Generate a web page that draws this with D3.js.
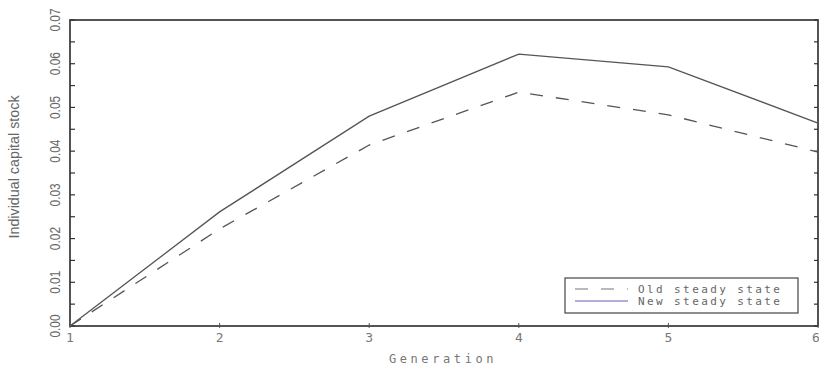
<!DOCTYPE html>
<html><head><meta charset="utf-8">
<script src="https://cdn.jsdelivr.net/npm/d3@7/dist/d3.min.js"></script>
<style>
html,body{margin:0;padding:0;background:#fff;}
svg{display:block;}
</style></head>
<body>
<svg id="chart" width="819" height="367"></svg>
<script>
const generations = [1, 2, 3, 4, 5, 6];
const oldSteady = [0.0, 0.0222, 0.0414, 0.0535, 0.0483, 0.0398];
const newSteady = [0.0, 0.0261, 0.0480, 0.0622, 0.0593, 0.0464];
const xTicks = [1, 2, 3, 4, 5, 6];
const yTicks = [0.00, 0.01, 0.02, 0.03, 0.04, 0.05, 0.06, 0.07];
const yMinorTicks = [0.005, 0.015, 0.025, 0.035, 0.045, 0.055, 0.065];
const seriesNames = ["Old steady state", "New steady state"];

const svg = d3.select("#chart");
const L = 70, R = 818, T = 20, B = 326;
const x = d3.scaleLinear().domain([1, 6]).range([L, R]);
const y = d3.scaleLinear().domain([0, 0.07]).range([B, T]);

const monoFont = "'DejaVu Sans Mono', monospace";
const narrowFont = "'Liberation Sans Narrow', 'Arial Narrow', 'Liberation Sans', sans-serif";

// frame
svg.append("rect").attr("x", L).attr("y", T).attr("width", R - L).attr("height", B - T)
  .attr("fill", "none").attr("stroke", "#2a2a2a").attr("stroke-width", 1.6);

// y ticks left & right
const allY = yTicks.concat(yMinorTicks);
svg.append("g").selectAll("line").data(allY).join("line")
  .attr("x1", L).attr("x2", L + 5).attr("y1", d => y(d)).attr("y2", d => y(d))
  .attr("stroke", "#333").attr("stroke-width", 1.2);
svg.append("g").selectAll("line").data(allY).join("line")
  .attr("x1", R - 4).attr("x2", R).attr("y1", d => y(d)).attr("y2", d => y(d))
  .attr("stroke", "#333").attr("stroke-width", 1.2);

// x ticks
svg.append("g").selectAll("line").data(xTicks).join("line")
  .attr("x1", d => x(d)).attr("x2", d => x(d)).attr("y1", B - 3).attr("y2", B + 2)
  .attr("stroke", "#555").attr("stroke-width", 1);

// y labels (rotated)
svg.append("g").selectAll("text").data(yTicks).join("text")
  .attr("transform", d => `translate(60,${y(d)}) rotate(-90) scale(0.85,1.1)`)
  .attr("text-anchor", "middle")
  .attr("font-family", narrowFont).attr("font-size", 14)
  .attr("fill", "#666")
  .text(d => d3.format(".2f")(d));

// x labels
svg.append("g").selectAll("text").data(xTicks).join("text")
  .attr("x", d => d === 6 ? x(d) - 2 : x(d)).attr("y", 342)
  .attr("text-anchor", "middle")
  .attr("font-family", monoFont).attr("font-size", 13)
  .attr("fill", "#777")
  .text(d => d);

// axis titles
svg.append("text").attr("x", 443).attr("y", 363).attr("text-anchor", "middle")
  .attr("font-family", monoFont).attr("font-size", 12).attr("letter-spacing", 3.6)
  .attr("fill", "#777").text("Generation");
svg.append("text").attr("transform", "translate(19,167) rotate(-90) scale(1.1,1.1)")
  .attr("text-anchor", "middle")
  .attr("font-family", narrowFont).attr("font-size", 13)
  .attr("fill", "#666").text("Individual capital stock");

// lines
const line = d3.line().x((d, i) => x(generations[i])).y(d => y(d));
svg.append("path").datum(oldSteady).attr("d", line)
  .attr("fill", "none").attr("stroke", "#555").attr("stroke-width", 1.3)
  .attr("stroke-dasharray", "13,13");
svg.append("path").datum(newSteady).attr("d", line)
  .attr("fill", "none").attr("stroke", "#555").attr("stroke-width", 1.3);

// legend
const lg = svg.append("g");
lg.append("rect").attr("x", 565).attr("y", 278).attr("width", 233).attr("height", 35)
  .attr("fill", "#fff").attr("stroke", "#444").attr("stroke-width", 1.2);
const legendColors = ["#777", "#6a5fae"];
const legendDash = ["13,13", null];
seriesNames.forEach((name, i) => {
  const ly = 289 + i * 12;
  lg.append("line").attr("x1", 575).attr("x2", 628).attr("y1", ly).attr("y2", ly)
    .attr("stroke", legendColors[i]).attr("stroke-width", 1.2)
    .attr("stroke-dasharray", legendDash[i]);
  lg.append("text").attr("x", 638).attr("y", ly + 4)
    .attr("font-family", monoFont).attr("font-size", 11).attr("letter-spacing", 2.4)
    .attr("fill", "#666").text(name);
});
</script>
</body></html>
